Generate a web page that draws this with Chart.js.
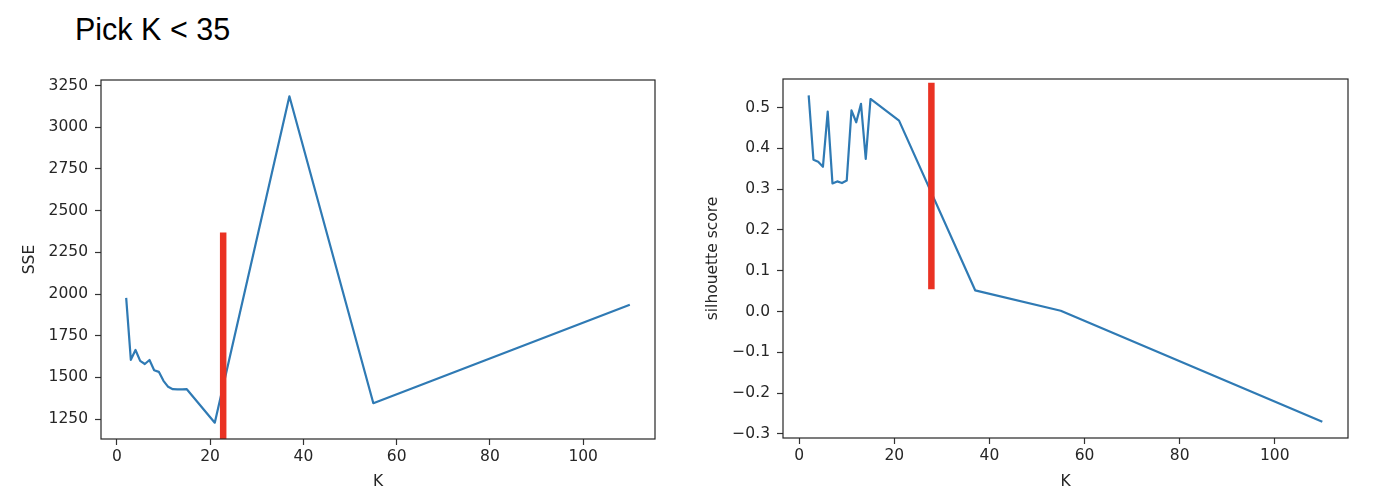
<!DOCTYPE html>
<html><head><meta charset="utf-8">
<script src="https://cdn.jsdelivr.net/npm/chart.js@4"></script>
<style>
html,body{margin:0;padding:0;background:#fff;width:1400px;height:503px;overflow:hidden}
#title{position:absolute;left:75px;top:14px;font-family:"Liberation Sans",Arial,sans-serif;font-size:30.5px;line-height:30px;color:#000;white-space:nowrap}
#c1{position:absolute;left:0;top:0}
#c2{position:absolute;left:690px;top:0}
</style></head><body>
<div id="title">Pick K &lt; 35</div>
<canvas id="c1" width="700" height="503"></canvas>
<canvas id="c2" width="710" height="503"></canvas>
<script>
const kValues = [2, 3, 4, 5, 6, 7, 8, 9, 10, 11, 12, 13, 14, 15, 21, 37, 55, 110];
const sseValues = [1977, 1605, 1664, 1599, 1580, 1604, 1543, 1533, 1479, 1443, 1429, 1428, 1428, 1429, 1228, 3186, 1345, 1935];
const silhouetteValues = [0.530, 0.372, 0.367, 0.355, 0.490, 0.314, 0.319, 0.315, 0.321, 0.493, 0.464, 0.509, 0.374, 0.521, 0.468, 0.052, 0.002, -0.270];
const xTicks = [0, 20, 40, 60, 80, 100];
const sseTicks = [1250, 1500, 1750, 2000, 2250, 2500, 2750, 3000, 3250];
const silTicks = [-0.3, -0.2, -0.1, 0.0, 0.1, 0.2, 0.3, 0.4, 0.5];
const sseCutK = [22.8, 22.8];
const sseCutY = [1100, 2369];
const silCutK = [27.8, 27.8];
const silCutY = [0.0545, 0.561];

const BLUE = '#2f7ab4';
const RED = 'rgb(234,50,35)';
const TXT = '#262626';
const FONT = 'DejaVu Sans';
const FS = 15.5;

function pts(xs, ys){ return xs.map((x,i)=>({x:x, y:ys[i]})); }
function pad(arr){ const mn=Math.min(...arr), mx=Math.max(...arr), m=(mx-mn)*0.05; return [mn-m, mx+m]; }

const frame = {
  id:'frame',
  afterDatasetsDraw(chart){
    const {ctx, chartArea:a} = chart;
    ctx.save();
    ctx.strokeStyle = '#262626';
    ctx.lineWidth = 1.2;
    ctx.strokeRect(a.left, a.top, a.right-a.left, a.bottom-a.top);
    ctx.restore();
  }
};

function makeChart(id, ys, cutK, cutY, yTicks, yTitle, fmt, geo){
  const xr = pad(kValues), yr = pad(ys);
  return new Chart(document.getElementById(id), {
    type:'line',
    data:{datasets:[
      {data:pts(cutK, cutY), borderColor:RED, borderWidth:6.5, pointRadius:0, borderCapStyle:'butt', clip:0},
      {data:pts(kValues, ys), borderColor:BLUE, borderWidth:2.2, pointRadius:0, tension:0, borderJoinStyle:'round'}
    ]},
    options:{
      responsive:false, animation:false, devicePixelRatio:1,
      layout:{padding:{left:0, top:geo.top, right:geo.right, bottom:0}},
      plugins:{legend:{display:false}, tooltip:{enabled:false}},
      scales:{
        x:{type:'linear', min:xr[0], max:xr[1],
          afterBuildTicks(s){ s.ticks = xTicks.map(v=>({value:v})); },
          afterFit(s){ s.height = geo.xh; },
          ticks:{font:{family:FONT, size:FS}, color:TXT, padding:3, maxRotation:0, autoSkip:false, callback:v=>String(v)},
          grid:{display:true, drawOnChartArea:false, drawTicks:true, tickLength:6, tickColor:'#333', tickWidth:1.2},
          border:{display:false},
          title:{display:true, text:'K', font:{family:FONT, size:FS}, color:TXT, padding:{top:0, bottom:12}}
        },
        y:{type:'linear', min:yr[0], max:yr[1],
          afterBuildTicks(s){ s.ticks = yTicks.map(v=>({value:v})); },
          afterFit(s){ s.width = geo.yw; },
          ticks:{font:{family:FONT, size:FS}, color:TXT, padding:7, autoSkip:false, callback:fmt},
          grid:{display:true, drawOnChartArea:false, drawTicks:true, tickLength:6, tickColor:'#333', tickWidth:1.2},
          border:{display:false},
          title:{display:true, text:yTitle, font:{family:FONT, size:FS}, color:TXT, padding:{top:geo.tp, bottom:0}}
        }
      }
    },
    plugins:[frame]
  });
}

makeChart('c1', sseValues, sseCutK, sseCutY, sseTicks, 'SSE', v=>String(v),
  {top:80, right:45, xh:64, yw:101, tp:21});
makeChart('c2', silhouetteValues, silCutK, silCutY, silTicks, 'silhouette score',
  v=>v.toFixed(1).replace('-', '\u2212'),
  {top:79, right:52, xh:65, yw:93, tp:14});
</script>
</body></html>
